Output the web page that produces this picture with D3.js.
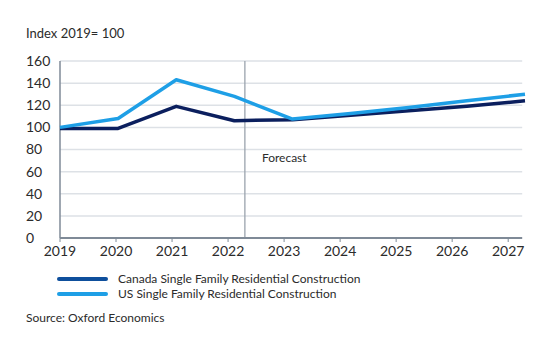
<!DOCTYPE html>
<html>
<head>
<meta charset="utf-8">
<script src="https://cdn.jsdelivr.net/npm/d3@7"></script>
<style>
  body { margin: 0; background: #fff; }
  svg text { font-family: Lato, "Noto Sans", sans-serif; fill: #2b2b2b; }
</style>
</head>
<body>
<svg id="chart" width="555" height="350"></svg>
<script>
const years = ['2019', '2020', '2021', '2022', '2023', '2024', '2025', '2026', '2027'];
const canada = [99, 99, 119, 106, 107, 111, 115, 119, 124];
const us = [100, 108, 143, 128, 107.5, 112.5, 118, 124, 130];
const yTicks = [0, 20, 40, 60, 80, 100, 120, 140, 160];
const xTickYears = [2019, 2020, 2021, 2022, 2023, 2024, 2025, 2026, 2027];
const forecastStart = 2022.3;

const seriesNames = ['Canada Single Family Residential Construction', 'US Single Family Residential Construction'];
const lineColors = ['#0b1f5e', '#1e9fe6'];
const legendColors = ['#0e4f9c', '#1e9fe6'];

let svg = d3.select('#chart');

let margin = { top: 61, right: 30, bottom: 112, left: 60 };
let width = 555, height = 350;

// the data points and the tick labels do not share spacing in the original
let xData = d3.scalePoint()
  .domain(years)
  .range([margin.left, width - margin.right]);

let xAxisScale = d3.scaleLinear()
  .domain([2019, 2027.3])
  .range([margin.left, width - margin.right]);

let y = d3.scaleLinear()
  .domain([0, 160])
  .range([height - margin.bottom, margin.top]);

// gridlines
svg.append('g')
  .selectAll('line')
  .data(yTicks.filter(d => d > 0))
  .enter()
  .append('line')
  .attr('x1', margin.left)
  .attr('x2', xAxisScale(2027.25))
  .attr('y1', d => y(d))
  .attr('y2', d => y(d))
  .attr('stroke', '#dde1e6')
  .attr('stroke-width', 1.5);

// y labels
svg.append('g')
  .selectAll('text')
  .data(yTicks)
  .enter()
  .append('text')
  .attr('x', 26)
  .attr('y', d => y(d))
  .attr('dy', '0.35em')
  .style('font-size', '14px')
  .text(d => d);

// forecast line
svg.append('line')
  .attr('x1', xAxisScale(forecastStart))
  .attr('x2', xAxisScale(forecastStart))
  .attr('y1', y(160))
  .attr('y2', y(0))
  .attr('stroke', '#9aa3ad')
  .attr('stroke-width', 1.3);

svg.append('text')
  .attr('x', xAxisScale(forecastStart) + 17)
  .attr('y', y(72) + 4)
  .style('font-size', '12px')
  .text('Forecast');

// axes
svg.append('line')
  .attr('x1', margin.left)
  .attr('x2', margin.left)
  .attr('y1', y(160))
  .attr('y2', y(0))
  .attr('stroke', '#7f8a97')
  .attr('stroke-width', 1.5);

svg.append('line')
  .attr('x1', margin.left)
  .attr('x2', xAxisScale(2027.25))
  .attr('y1', y(0))
  .attr('y2', y(0))
  .attr('stroke', '#7f8a97')
  .attr('stroke-width', 2);

let xt = svg.append('g');
xt.selectAll('line')
  .data(xTickYears)
  .enter()
  .append('line')
  .attr('x1', d => xAxisScale(d))
  .attr('x2', d => xAxisScale(d))
  .attr('y1', y(0))
  .attr('y2', y(0) + 4)
  .attr('stroke', '#7f8a97')
  .attr('stroke-width', 1);

xt.selectAll('text')
  .data(xTickYears)
  .enter()
  .append('text')
  .attr('x', d => xAxisScale(d))
  .attr('y', y(0) + 18)
  .attr('text-anchor', 'middle')
  .style('font-size', '14px')
  .text(d => d);

// lines
let line = d3.line()
  .x((d, i) => xData(years[i]))
  .y(d => y(d));

[canada, us].forEach(function(values, i) {
  svg.append('path')
    .datum(values)
    .attr('d', line)
    .attr('fill', 'none')
    .attr('stroke', lineColors[i])
    .attr('stroke-width', 3.5)
    .attr('stroke-linejoin', 'round');
});

// legend
let legend = svg.append('g');
seriesNames.forEach(function(name, i) {
  let ly = 279 + i * 15;
  legend.append('line')
    .attr('x1', 59)
    .attr('x2', 106)
    .attr('y1', ly)
    .attr('y2', ly)
    .attr('stroke', legendColors[i])
    .attr('stroke-width', 4)
    .attr('stroke-linecap', 'round');
  legend.append('text')
    .attr('x', 118)
    .attr('y', ly)
    .attr('dy', '0.35em')
    .style('font-size', '12px')
    .text(name);
});

svg.append('text')
  .attr('x', 26)
  .attr('y', 38)
  .style('font-size', '13px')
  .text('Index 2019= 100');

svg.append('text')
  .attr('x', 26)
  .attr('y', 322)
  .style('font-size', '12px')
  .text('Source: Oxford Economics');
</script>
</body>
</html>
